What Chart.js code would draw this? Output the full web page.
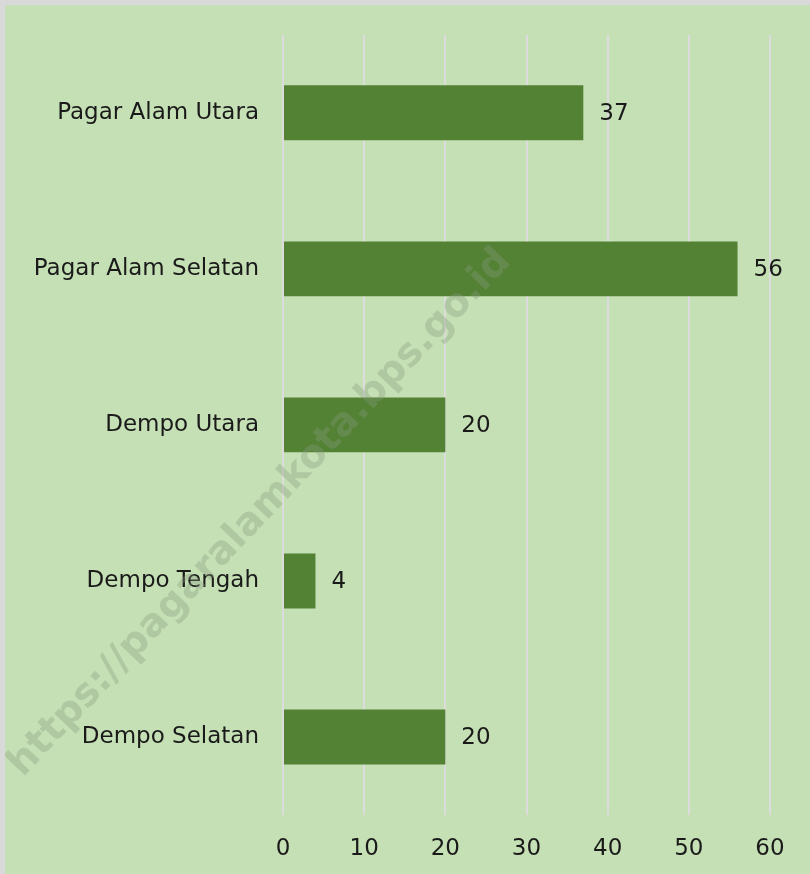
<!DOCTYPE html>
<html>
<head>
<meta charset="utf-8">
<title>Kecamatan</title>
<script src="https://cdn.jsdelivr.net/npm/chart.js"></script>
<style>
body {
  margin: 0;
  background: #d9d9d9;
  width: 810px;
  height: 874px;
  overflow: hidden;
}
.wrap {
  position: absolute;
  left: 5px;
  top: 5px;
  width: 805px;
  height: 869px;
  background: #c5e0b4;
}
</style>
</head>
<body>

<div class="wrap"><canvas id="chart" width="805" height="869"></canvas></div>

<script>
// data
const districts = ["Pagar Alam Utara", "Pagar Alam Selatan", "Dempo Utara", "Dempo Tengah", "Dempo Selatan"];
const counts = [37, 56, 20, 4, 20];
const xTicks = [0, 10, 20, 30, 40, 50, 60];

const FONT = "'DejaVu Sans', sans-serif";

// watermark, sits over the bars
const watermark = {
  id: "watermark",
  afterDatasetsDraw(chart) {
    const ctx = chart.ctx;
    ctx.save();
    ctx.translate(255, 508);
    ctx.rotate(-46.5 * Math.PI / 180);
    ctx.font = "bold 39px " + FONT;
    ctx.fillStyle = "rgba(135,155,125,0.35)";
    ctx.textAlign = "center";
    ctx.textBaseline = "middle";
    ctx.fillText("https://pagaralamkota.bps.go.id", 0, 0);
    ctx.restore();
  }
};

// value labels right of bars
const valueLabels = {
  id: "valueLabels",
  afterDatasetsDraw(chart) {
    const ctx = chart.ctx;
    const meta = chart.getDatasetMeta(0);
    ctx.save();
    ctx.font = "23px " + FONT;
    ctx.fillStyle = "#1a1a1a";
    ctx.textAlign = "left";
    ctx.textBaseline = "middle";
    meta.data.forEach((bar, i) => {
      ctx.fillText(counts[i], bar.x + 16, bar.y + 1);
    });
    ctx.restore();
  }
};

new Chart(document.getElementById("chart"), {
  type: "bar",
  data: {
    labels: districts,
    datasets: [{
      data: counts,
      backgroundColor: "#548235",
      categoryPercentage: 1,
      barPercentage: 0.352
    }]
  },
  options: {
    indexAxis: "y",
    responsive: false,
    animation: false,
    layout: { padding: { top: 21, right: 40, left: 0, bottom: 0 } },
    plugins: {
      legend: { display: false },
      tooltip: { enabled: false }
    },
    scales: {
      x: {
        min: 0,
        max: 60,
        afterBuildTicks(scale) {
          scale.ticks = xTicks.map(v => ({ value: v }));
        },
        afterFit(scale) { scale.height = 59; },
        grid: { color: "#dcdcdc", lineWidth: 2, drawTicks: false },
        border: { display: false },
        ticks: {
          padding: 20,
          color: "#1a1a1a",
          font: { family: FONT, size: 23 }
        }
      },
      y: {
        afterFit(scale) { scale.width = 278; },
        grid: { display: false },
        border: { display: false },
        ticks: {
          padding: 16,
          color: "#1a1a1a",
          font: { family: FONT, size: 23 }
        }
      }
    }
  },
  plugins: [watermark, valueLabels]
});
</script>

</body>
</html>
